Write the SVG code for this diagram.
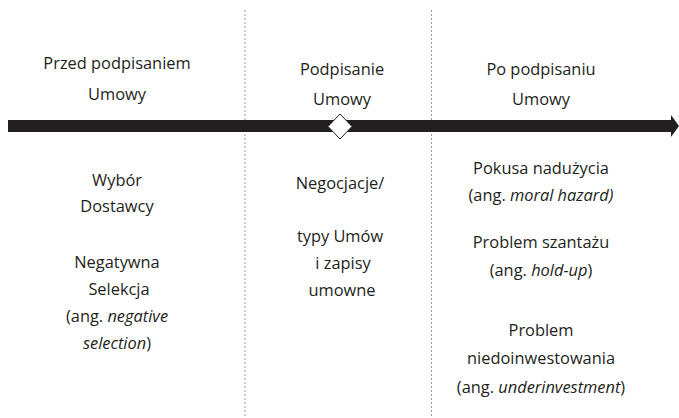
<svg xmlns="http://www.w3.org/2000/svg" width="679" height="418" viewBox="0 0 679 418">
<style>
text{font-family:"Open Sans","Noto Sans",sans-serif;font-size:16.4px;fill:#231f20;text-anchor:middle}
.i{font-style:italic}
.sep{stroke:#999;stroke-width:1;stroke-dasharray:2 2;fill:none}
</style>
<rect width="679" height="418" fill="#fff"/>
<g id="separators">
<line class="sep" x1="245" y1="10" x2="245" y2="418"/>
<line class="sep" x1="431.5" y1="10" x2="431.5" y2="418"/>
</g>
<g id="connectors">
<rect x="8" y="120" width="665" height="12" fill="#231f20"/>
<polygon points="671,115 679,126 671,137" fill="#231f20"/>
</g>
<g id="signing-marker">
<polygon points="340,114 352,126.5 340,139 328,126.5" fill="#fff" stroke="#231f20" stroke-width="1"/>
</g>
<g id="phase-before">
<text x="117" y="69">Przed podpisaniem</text>
<text x="117" y="100">Umowy</text>
</g>
<g id="phase-signing">
<text x="342" y="75">Podpisanie</text>
<text x="342" y="105">Umowy</text>
</g>
<g id="phase-after">
<text x="541" y="75">Po podpisaniu</text>
<text x="541" y="105">Umowy</text>
</g>
<g id="before-items">
<text x="117" y="186">Wybór</text>
<text x="117" y="212">Dostawcy</text>
<text x="117" y="268">Negatywna</text>
<text x="119" y="295">Selekcja</text>
<text x="117" y="322">(ang. <tspan class="i">negative</tspan></text>
<text x="117" y="349"><tspan class="i">selection</tspan>)</text>
</g>
<g id="signing-items">
<text x="340" y="189">Negocjacje/</text>
<text x="340" y="242">typy Umów</text>
<text x="343" y="269">i zapisy</text>
<text x="342" y="296">umowne</text>
</g>
<g id="after-items">
<text x="541" y="174">Pokusa nadużycia</text>
<text x="541" y="201">(ang. <tspan class="i">moral hazard)</tspan></text>
<text x="541" y="248">Problem szantażu</text>
<text x="541" y="276">(ang. <tspan class="i">hold-up</tspan>)</text>
<text x="541" y="336">Problem</text>
<text x="541" y="364">niedoinwestowania</text>
<text x="541" y="393">(ang. <tspan class="i">underinvestment</tspan>)</text>
</g>
</svg>
